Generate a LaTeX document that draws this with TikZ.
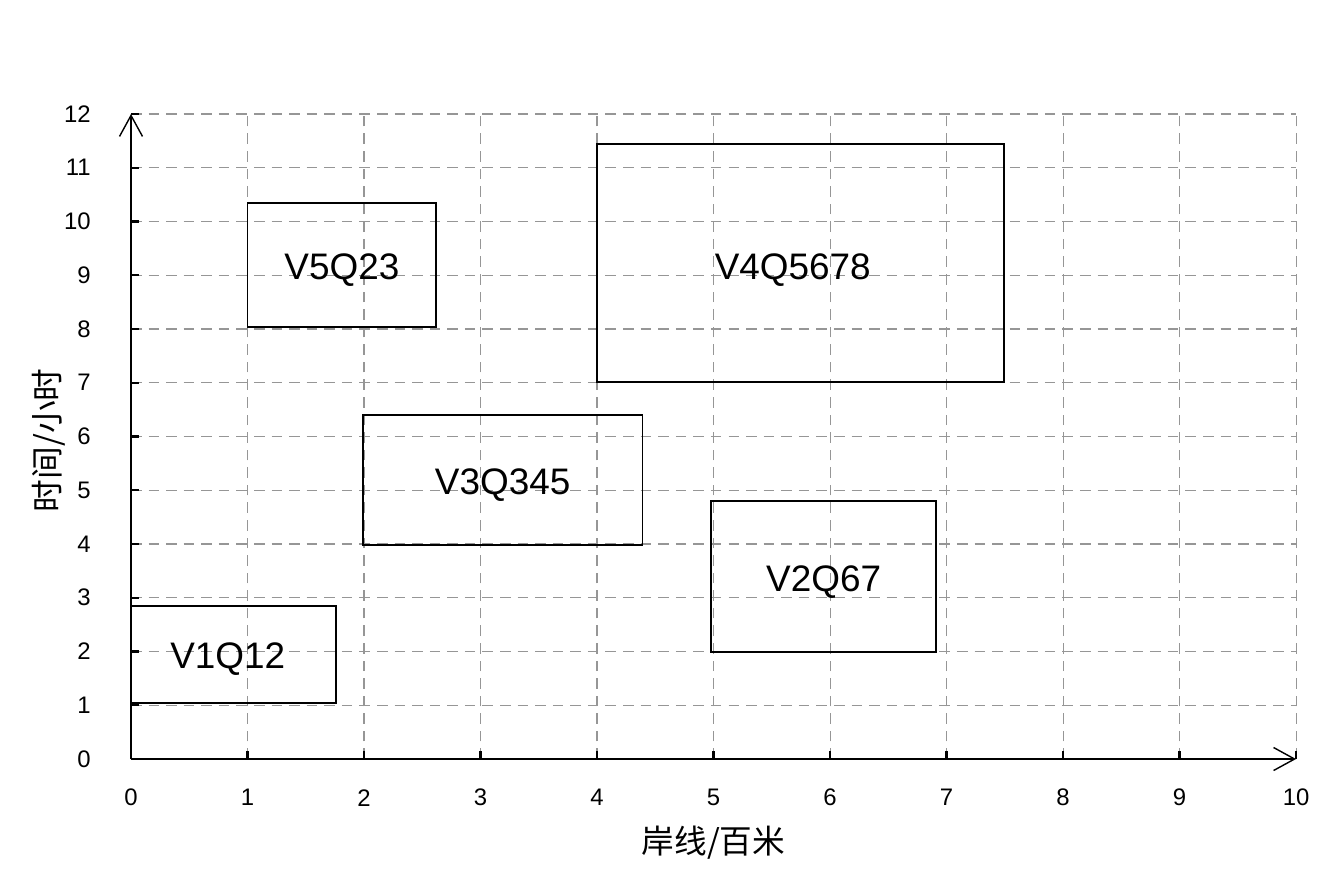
\documentclass[tikz,border=0pt]{standalone}
\usepackage{fontspec}
\setmainfont{Liberation Sans}
\newfontfamily\cjk{Noto Sans CJK SC}
\usetikzlibrary{arrows.meta, fit}
\definecolor{gridgray}{RGB}{150,150,150}

\begin{document}
\begin{tikzpicture}[x=1.165cm, y=0.5375cm,
    berth/.style={draw, line width=0.5pt, inner sep=0pt},
    berthlab/.style={font=\fontsize{10.5}{12}\selectfont, yshift=-1.5pt},
    ticklab/.style={font=\fontsize{6.8}{8}\selectfont},
    axislab/.style={font=\cjk\fontsize{9.3}{11}\selectfont},
    gridline/.style={gridgray, line width=0.3pt, dash pattern=on 3pt off 2pt},
    axisline/.style={line width=0.7pt, -{Straight Barb[length=0.21cm, width=0.23cm, line width=0.4pt]}}]
  \useasboundingbox (-1.1245,-2.4186) rectangle (10.326,14.121);
  % grid
  \foreach \i in {1,...,10}
    \draw[gridline] (\i,0) -- (\i,12);
  \foreach \j in {1,...,12}
    \draw[gridline] (0,\j) -- (10,\j);
  % axes
  \coordinate (o) at (0,0);
  \coordinate (xend) at (10,0);
  \coordinate (yend) at (0,12);
  \draw[axisline] (o) -- (xend);
  \draw[axisline] (o) -- (yend);
  % ticks and tick labels
  \foreach \i in {0,...,10} {
    \draw[line width=0.7pt] (\i,0) -- ++(0,0.15);
    \node[ticklab] (xt\i) at (\i,-0.72) {\i};
  }
  \foreach \j in {0,...,12} {
    \draw[line width=0.7pt] (0,\j) -- ++(0.07,0);
    \node[ticklab, anchor=east] (yt\j) at (-0.24,\j) {\j};
  }
  \node[axislab] (xlab) at (5,-1.55) {岸线/百米};
  \node[axislab, rotate=90] (ylab) at (-0.71,5.93) {时间/小时};
  % berth plans
  \node[berth, fit={(0,1.04)(1.76,2.85)}] (v1) {};
  \node[berth, fit={(4.98,1.99)(6.91,4.8)}] (v2) {};
  \node[berth, fit={(1.99,3.98)(4.39,6.4)}] (v3) {};
  \node[berth, fit={(4.0,7.01)(7.49,11.44)}] (v4) {};
  \node[berth, fit={(1.0,8.04)(2.62,10.34)}] (v5) {};
  \node[berthlab] (v1lab) at (0.83,1.95) {V1Q12};
  \node[berthlab] (v2lab) at (v2.center) {V2Q67};
  \node[berthlab] (v3lab) at (v3.center) {V3Q345};
  \node[berthlab] (v4lab) at (5.68,9.19) {V4Q5678};
  \node[berthlab] (v5lab) at (v5.center) {V5Q23};
\end{tikzpicture}
\end{document}
